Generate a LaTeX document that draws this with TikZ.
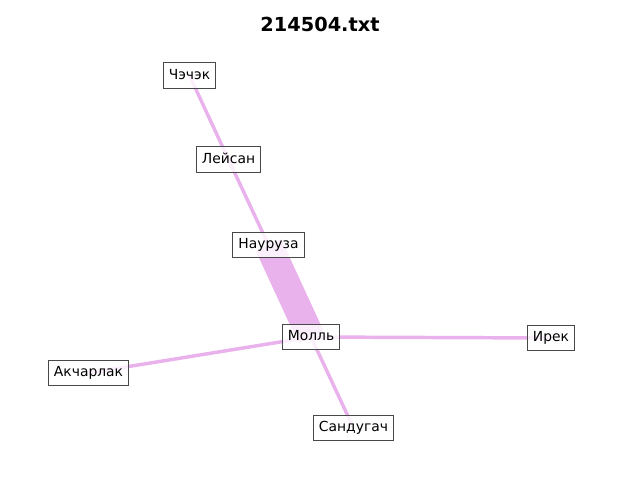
\documentclass[tikz,border=0pt]{standalone}
\usepackage{fontspec}
\setmainfont{DejaVu Sans}
\usetikzlibrary{backgrounds}
\definecolor{edgepink}{RGB}{234,178,236}
\definecolor{boxedge}{RGB}{72,72,72}
\begin{document}
\begin{tikzpicture}[x=0.75pt,y=-0.75pt,
  person/.style={draw=boxedge, line width=0.75pt, fill=white, fill opacity=0.8, text opacity=1,
    font=\fontsize{10.4pt}{12.5pt}\selectfont, inner xsep=4.3pt, inner ysep=4.6pt,
    text height=7.9pt, text depth=2.1pt},
  tie/.style={draw=edgepink, line width=2.6pt},
  strongtie/.style={draw=edgepink, line width=21pt}]
\useasboundingbox (0,0) rectangle (640,480);
\node[font=\bfseries\fontsize{14.5pt}{17pt}\selectfont] (title) at (320,24) {214504.txt};
\node[person] (chechek) at (189.5,75.5) {Чэчэк};
\node[person] (leysan) at (228.5,159.5) {Лейсан};
\node[person] (nauruza) at (268.5,245) {Науруза};
\node[person] (moll) at (311,337) {Молль};
\node[person] (irek) at (551,338) {Ирек};
\node[person] (akcharlak) at (88.5,373) {Акчарлак};
\node[person] (sandugach) at (353.5,428) {Сандугач};
\begin{scope}[on background layer]
  \draw[tie] (chechek.center) -- (leysan.center);
  \draw[tie] (leysan.center) -- (nauruza.center);
  \draw[strongtie] (nauruza.center) -- (moll.center);
  \draw[tie] (moll.center) -- (irek.center);
  \draw[tie] (moll.center) -- (akcharlak.center);
  \draw[tie] (moll.center) -- (sandugach.center);
\end{scope}
\end{tikzpicture}
\end{document}
